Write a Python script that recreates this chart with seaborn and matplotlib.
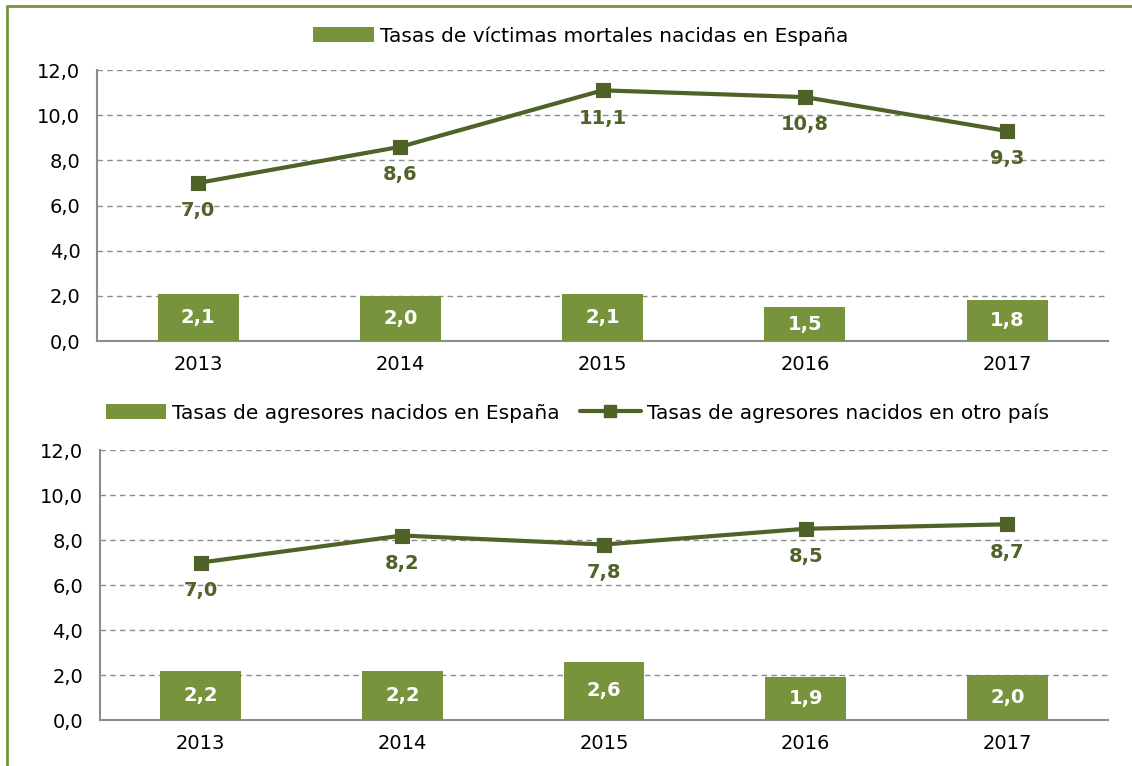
import matplotlib
matplotlib.use('Agg')
import matplotlib.pyplot as plt
from matplotlib.lines import Line2D
from matplotlib.patches import Patch
import seaborn as sns

# data
years = ['2013', '2014', '2015', '2016', '2017']
victimas_espana = [2.1, 2.0, 2.1, 1.5, 1.8]
victimas_otro = [7.0, 8.6, 11.1, 10.8, 9.3]
agresores_espana = [2.2, 2.2, 2.6, 1.9, 2.0]
agresores_otro = [7.0, 8.2, 7.8, 8.5, 8.7]

bar_color = '#77933C'
line_color = '#4F6228'
grid_color = '#8C8C8C'

sns.set_style('white')
plt.rcParams['font.family'] = ['DejaVu Sans']
plt.rcParams['text.color'] = 'black'
plt.rcParams['xtick.color'] = 'black'
plt.rcParams['ytick.color'] = 'black'

fig = plt.figure(figsize=(11.32, 7.66), dpi=100)
ax1 = fig.add_axes([0.0857, 0.5548, 0.8933, 0.3538])
ax2 = fig.add_axes([0.0883, 0.0600, 0.8905, 0.3525])


def fmt(v):
    return f'{v:.1f}'.replace('.', ',')


def draw_panel(ax, bars, line):
    sns.barplot(x=years, y=bars, color=bar_color, width=0.4, saturation=1,
                edgecolor='none', ax=ax, zorder=3)
    sns.pointplot(x=years, y=line, color=line_color, markers='s',
                  markersize=9, linewidth=3, ax=ax, zorder=4)
    for i, v in enumerate(bars):
        ax.text(i, v / 2, fmt(v), ha='center', va='center', color='white',
                fontsize=14, fontweight='bold', zorder=5)
    for i, v in enumerate(line):
        ax.annotate(fmt(v), (i, v), xytext=(0, -20), textcoords='offset points',
                    ha='center', va='center', color=line_color,
                    fontsize=14, fontweight='bold', zorder=5)
    ax.set_ylim(0, 12)
    ax.set_xlim(-0.5, 4.5)
    ax.set_yticks([0, 2, 4, 6, 8, 10, 12])
    ax.set_yticklabels([fmt(t) for t in [0, 2, 4, 6, 8, 10, 12]])
    ax.set_xticks(range(len(years)))
    ax.set_xticklabels(years)
    ax.set_xticks([k - 0.5 for k in range(len(years) + 1)], minor=True)
    ax.tick_params(axis='x', which='major', length=0, labelsize=14, pad=10)
    ax.tick_params(axis='x', which='minor', length=6, color=grid_color,
                   direction='out')
    ax.tick_params(axis='y', length=6, color=grid_color, direction='out',
                   labelsize=14, pad=6)
    ax.yaxis.grid(True, linestyle=(0, (4, 3)), color=grid_color, linewidth=1)
    ax.set_axisbelow(True)
    sns.despine(ax=ax)
    ax.spines['left'].set_color(grid_color)
    ax.spines['bottom'].set_color(grid_color)
    ax.spines['left'].set_linewidth(1.5)
    ax.spines['bottom'].set_linewidth(1.5)
    ax.set_xlabel('')
    ax.set_ylabel('')


draw_panel(ax1, victimas_espana, victimas_otro)
draw_panel(ax2, agresores_espana, agresores_otro)

bar_handle = Patch(facecolor=bar_color, edgecolor='none')
line_handle = Line2D([0], [0], color=line_color, linewidth=3, marker='s',
                     markersize=9)

fig.legend([bar_handle], ['Tasas de víctimas mortales nacidas en España'],
           loc='center', bbox_to_anchor=(0.513, 0.953), frameon=False,
           fontsize=14.5, handlelength=3.0, handleheight=0.8, handletextpad=0.3)
fig.legend([bar_handle, line_handle],
           ['Tasas de agresores nacidos en España',
            'Tasas de agresores nacidos en otro país'],
           loc='center', bbox_to_anchor=(0.51, 0.461), frameon=False, ncol=2,
           fontsize=14.5, handlelength=3.0, handleheight=0.8, handletextpad=0.3,
           columnspacing=1.0)

# green outer frame (left and top edges)
fig.add_artist(Line2D([0.0065, 0.0065], [0, 0.992], color=bar_color,
                      linewidth=2, transform=fig.transFigure))
fig.add_artist(Line2D([0.0065, 1.0], [0.992, 0.992], color=bar_color,
                      linewidth=2, transform=fig.transFigure))

fig.savefig('out.png', dpi=100)
